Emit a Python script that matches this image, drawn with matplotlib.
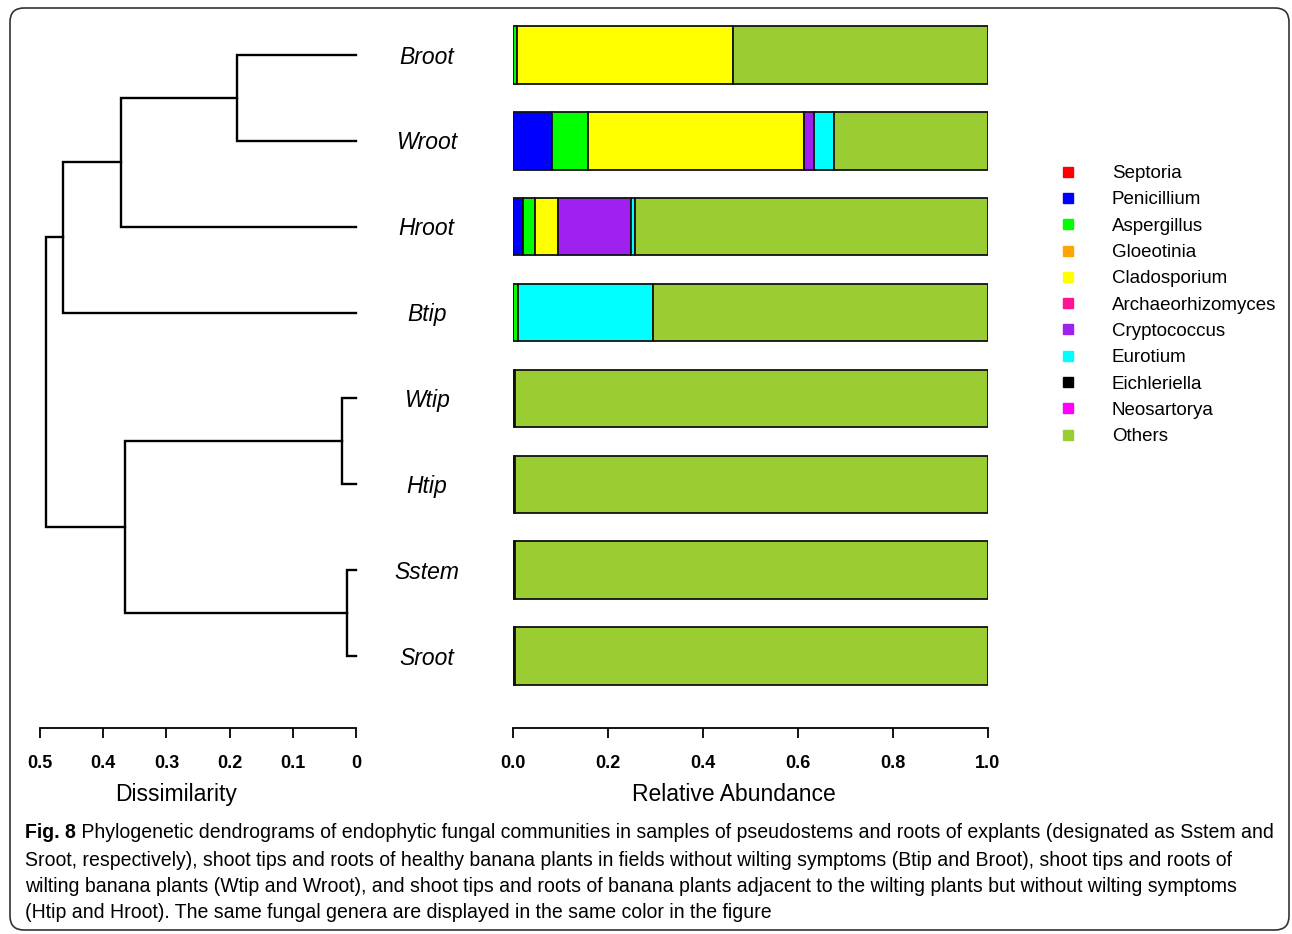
import matplotlib
matplotlib.use('Agg')
import matplotlib.pyplot as plt
from matplotlib.lines import Line2D
from matplotlib.patches import FancyBboxPatch
from matplotlib.transforms import IdentityTransform
from matplotlib import font_manager

samples = ['Broot', 'Wroot', 'Hroot', 'Btip', 'Wtip', 'Htip', 'Sstem', 'Sroot']
genera = ['Septoria', 'Penicillium', 'Aspergillus', 'Gloeotinia', 'Cladosporium',
          'Archaeorhizomyces', 'Cryptococcus', 'Eurotium', 'Eichleriella',
          'Neosartorya', 'Others']
genus_colors = ['#FF0000', '#0000FF', '#00FF00', '#FFA500', '#FFFF00', '#FF1493',
                '#A020F0', '#00FFFF', '#000000', '#FF00FF', '#9ACD32']

# relative abundance per sample, same order as genera
broot = [0, 0, 0.008, 0, 0.455, 0, 0, 0, 0, 0, 0.537]
wroot = [0, 0.082, 0.076, 0, 0.455, 0, 0.021, 0.042, 0, 0, 0.324]
hroot = [0, 0.021, 0.026, 0, 0.047, 0, 0.154, 0.008, 0, 0, 0.744]
btip = [0, 0, 0.010, 0, 0, 0, 0, 0.284, 0, 0, 0.706]
wtip = [0, 0, 0, 0, 0, 0, 0, 0, 0.004, 0, 0.996]
htip = [0, 0, 0, 0, 0, 0, 0, 0, 0.004, 0, 0.996]
sstem = [0, 0, 0, 0, 0, 0, 0, 0, 0.004, 0, 0.996]
sroot = [0, 0, 0, 0, 0, 0, 0, 0, 0.004, 0, 0.996]
abundance = [broot, wroot, hroot, btip, wtip, htip, sstem, sroot]

# dendrogram merges: (child a, child b, height); leaves are 0-7, new clusters numbered from 8
merges = [(0, 1, 0.188), (8, 2, 0.372), (9, 3, 0.464), (4, 5, 0.022),
          (6, 7, 0.014), (11, 12, 0.366), (10, 13, 0.491)]

dissim_ticks = [0.5, 0.4, 0.3, 0.2, 0.1, 0]
dissim_labels = ['0.5', '0.4', '0.3', '0.2', '0.1', '0']
abund_ticks = [0.0, 0.2, 0.4, 0.6, 0.8, 1.0]
abund_labels = ['0.0', '0.2', '0.4', '0.6', '0.8', '1.0']

caption_lines = [
    'Phylogenetic dendrograms of endophytic fungal communities in samples of pseudostems and roots of explants (designated as Sstem and',
    'Sroot, respectively), shoot tips and roots of healthy banana plants in fields without wilting symptoms (Btip and Broot), shoot tips and roots of',
    'wilting banana plants (Wtip and Wroot), and shoot tips and roots of banana plants adjacent to the wilting plants but without wilting symptoms',
    '(Htip and Hroot). The same fungal genera are displayed in the same color in the figure',
]

plt.rcParams['font.family'] = ['Liberation Sans', 'DejaVu Sans']

W, H = 1292, 934
fig = plt.figure(figsize=(W / 100, H / 100), dpi=100)

ax_bottom = (H - 699) / H
ax_height = 687 / H
ax_d = fig.add_axes([40 / W, ax_bottom, 316 / W, ax_height])
ax_b = fig.add_axes([513 / W, ax_bottom, 475 / W, ax_height])

n = len(samples)

# dendrogram
pos = {i: (i, 0.0) for i in range(n)}
for k, (a, b, h) in enumerate(merges):
    ya, ha = pos[a]
    yb, hb = pos[b]
    ax_d.plot([ha, h, h, hb], [ya, ya, yb, yb], color='black', lw=1.7,
              solid_joinstyle='miter', clip_on=False)
    pos[n + k] = ((ya + yb) / 2, h)

ax_d.set_xlim(0.5, 0)
ax_d.set_ylim(n - 0.5, -0.5)

# stacked bars
for i, row in enumerate(abundance):
    left = 0
    for g, val in enumerate(row):
        if val > 0:
            ax_b.barh(i, val, left=left, height=0.67, color=genus_colors[g],
                      edgecolor='#111111', linewidth=1.3)
        left += val
    ax_b.text(-0.182, i + 0.025, samples[i], ha='center', va='center', fontsize=16.5,
              style='italic', clip_on=False)

ax_b.set_xlim(0, 1)
ax_b.set_ylim(n - 0.5, -0.5)

for ax, ticks, labels in [(ax_d, dissim_ticks, dissim_labels), (ax_b, abund_ticks, abund_labels)]:
    for s in ['top', 'right', 'left']:
        ax.spines[s].set_visible(False)
    ax.spines['bottom'].set_position(('outward', 21))
    ax.spines['bottom'].set_linewidth(1.3)
    ax.set_yticks([])
    ax.set_xticks(ticks)
    ax.set_xticklabels(labels, fontweight='bold', fontsize=13)
    ax.tick_params(axis='x', direction='out', length=7.5, width=1.3, pad=11.5)

ax_d.set_xlabel('Dissimilarity', fontsize=16.5, x=0.43, labelpad=8)
ax_b.set_xlabel('Relative Abundance', fontsize=16.5, x=0.465, labelpad=8)

# legend
handles = [Line2D([], [], marker='s', linestyle='none', markersize=6.5,
                  markerfacecolor=c, markeredgecolor=c) for c in genus_colors]
fig.legend(handles, genera, loc='upper left', bbox_to_anchor=(1062 / W, 1 - 165 / H),
           frameon=False, fontsize=13.5, handlelength=0.6, handletextpad=2.05,
           labelspacing=0.49, borderpad=0, borderaxespad=0)

# caption
names = {f.name for f in font_manager.fontManager.ttflist}
cap_font = 'Liberation Sans Narrow' if 'Liberation Sans Narrow' in names else 'Liberation Sans'
cap_y = [833, 860, 886, 913]
cap_left = 25
cap_right = 1272
cap_texts = []
t1 = fig.text(cap_left / W, 1 - cap_y[0] / H, 'Fig. 8', fontsize=13, fontweight='bold',
              family=cap_font, va='center')
t2 = fig.text(0, 1 - cap_y[0] / H, ' ' + caption_lines[0], fontsize=13, family=cap_font,
              va='center')
cap_texts += [t1, t2]
for y, line in zip(cap_y[1:], caption_lines[1:]):
    cap_texts.append(fig.text(cap_left / W, 1 - y / H, line, fontsize=13, family=cap_font,
                              va='center'))

# fit the first caption line to the reference width
renderer = fig.canvas.get_renderer()
size = 13.0
for _ in range(4):
    for t in cap_texts:
        t.set_fontsize(size)
    b1 = t1.get_window_extent(renderer)
    t2.set_position((b1.x1 / W, 1 - cap_y[0] / H))
    b2 = t2.get_window_extent(renderer)
    size *= (cap_right - cap_left) / (b2.x1 - b1.x0)

# rounded frame around the figure
frame = FancyBboxPatch((10, 4), 1279, 922, boxstyle='round,pad=0,rounding_size=14',
                       transform=IdentityTransform(), fill=False, edgecolor='#333333',
                       linewidth=1.2)
fig.patches.append(frame)

fig.savefig('out.png', dpi=100)
